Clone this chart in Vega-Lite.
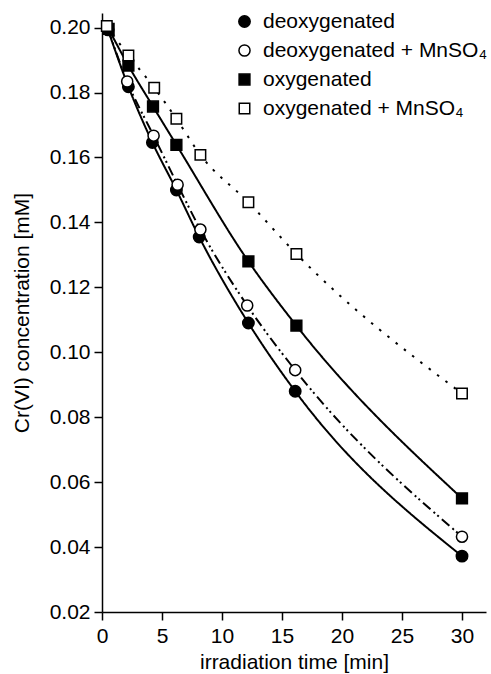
{
  "$schema": "https://vega.github.io/schema/vega-lite/v6.json",
  "width": 384,
  "height": 599,
  "autosize": {"type": "none"},
  "padding": {"left": 102, "top": 13, "right": 5, "bottom": 62},
  "background": "white",
  "config": {
    "view": {"stroke": null},
    "font": "Liberation Sans",
    "axis": {
      "grid": false,
      "domainColor": "black",
      "tickColor": "black",
      "domainWidth": 1.5,
      "tickWidth": 1.5,
      "tickSize": 8,
      "labelColor": "black",
      "titleColor": "black",
      "labelFontSize": 21,
      "titleFontSize": 21,
      "titleFontWeight": "normal",
      "labelFont": "Liberation Sans",
      "titleFont": "Liberation Sans"
    },
    "legend": {
      "orient": "none", "legendX": 132, "legendY": -2, "title": null,
      "labelFontSize": 21, "labelFont": "Liberation Sans", "labelColor": "black",
      "labelOffset": 8, "rowPadding": 7, "padding": 0, "labelLimit": 400,
      "symbolStrokeWidth": 1.5
    }
  },
  "resolve": {"legend": {"strokeDash": "independent"}},
  "data": {
    "values": [
      {"series": "deoxygenated", "t": 0.5, "c": 0.1993},
      {"series": "deoxygenated", "t": 2.2, "c": 0.1818},
      {"series": "deoxygenated", "t": 4.2, "c": 0.1646},
      {"series": "deoxygenated", "t": 6.2, "c": 0.150},
      {"series": "deoxygenated", "t": 8.1, "c": 0.1355},
      {"series": "deoxygenated", "t": 12.2, "c": 0.109},
      {"series": "deoxygenated", "t": 16.1, "c": 0.088},
      {"series": "deoxygenated", "t": 30, "c": 0.0372},
      {"series": "deoxygenated + MnSO₄", "t": 0.5, "c": 0.1995},
      {"series": "deoxygenated + MnSO₄", "t": 2.1, "c": 0.1834},
      {"series": "deoxygenated + MnSO₄", "t": 4.3, "c": 0.1667},
      {"series": "deoxygenated + MnSO₄", "t": 6.3, "c": 0.1516},
      {"series": "deoxygenated + MnSO₄", "t": 8.2, "c": 0.1378},
      {"series": "deoxygenated + MnSO₄", "t": 12.1, "c": 0.1144},
      {"series": "deoxygenated + MnSO₄", "t": 16.1, "c": 0.0945},
      {"series": "deoxygenated + MnSO₄", "t": 30, "c": 0.0432},
      {"series": "oxygenated", "t": 0.55, "c": 0.1996},
      {"series": "oxygenated", "t": 2.2, "c": 0.1883},
      {"series": "oxygenated", "t": 4.25, "c": 0.1757},
      {"series": "oxygenated", "t": 6.2, "c": 0.1639},
      {"series": "oxygenated", "t": 12.2, "c": 0.128},
      {"series": "oxygenated", "t": 16.2, "c": 0.1082},
      {"series": "oxygenated", "t": 30, "c": 0.055},
      {"series": "oxygenated + MnSO₄", "t": 0.4, "c": 0.2005},
      {"series": "oxygenated + MnSO₄", "t": 2.2, "c": 0.1914},
      {"series": "oxygenated + MnSO₄", "t": 4.35, "c": 0.1815},
      {"series": "oxygenated + MnSO₄", "t": 6.2, "c": 0.1719},
      {"series": "oxygenated + MnSO₄", "t": 8.2, "c": 0.1608},
      {"series": "oxygenated + MnSO₄", "t": 12.2, "c": 0.1462},
      {"series": "oxygenated + MnSO₄", "t": 16.2, "c": 0.1303},
      {"series": "oxygenated + MnSO₄", "t": 30, "c": 0.0873}
    ]
  },
  "encoding": {
    "x": {
      "field": "t", "type": "quantitative",
      "scale": {"domain": [0, 32], "nice": false, "zero": false},
      "axis": {"values": [0, 5, 10, 15, 20, 25, 30], "title": "irradiation time [min]", "labelPadding": 5, "titlePadding": 5, "labelFlush": false}
    },
    "y": {
      "field": "c", "type": "quantitative",
      "scale": {"domain": [0.02, 0.2045], "nice": false, "zero": false},
      "axis": {"values": [0.02, 0.04, 0.06, 0.08, 0.10, 0.12, 0.14, 0.16, 0.18, 0.20], "format": ".2f", "title": "Cr(VI) concentration [mM]", "labelPadding": 4, "titlePadding": 17, "labelFlush": false}
    }
  },
  "layer": [
    {
      "mark": {"type": "line", "interpolate": "monotone", "color": "black", "strokeWidth": 2},
      "encoding": {
        "detail": {"field": "series"},
        "strokeDash": {
          "field": "series", "type": "nominal", "legend": null,
          "scale": {
            "domain": ["deoxygenated", "deoxygenated + MnSO₄", "oxygenated", "oxygenated + MnSO₄"],
            "range": [[1, 0], [10, 4, 2, 3, 2, 4], [1, 0], [2.5, 8]]
          }
        }
      }
    },
    {
      "mark": {"type": "point", "filled": true, "strokeWidth": 1.5, "opacity": 1},
      "encoding": {
        "shape": {
          "field": "series", "type": "nominal",
          "scale": {
            "domain": ["deoxygenated", "deoxygenated + MnSO₄", "oxygenated", "oxygenated + MnSO₄"],
            "range": ["circle", "circle", "square", "square"]
          }
        },
        "fill": {
          "field": "series", "type": "nominal",
          "scale": {
            "domain": ["deoxygenated", "deoxygenated + MnSO₄", "oxygenated", "oxygenated + MnSO₄"],
            "range": ["black", "white", "black", "white"]
          }
        },
        "stroke": {
          "field": "series", "type": "nominal",
          "scale": {
            "domain": ["deoxygenated", "deoxygenated + MnSO₄", "oxygenated", "oxygenated + MnSO₄"],
            "range": ["black", "black", "black", "black"]
          }
        },
        "size": {
          "field": "series", "type": "ordinal",
          "scale": {
            "domain": ["deoxygenated", "deoxygenated + MnSO₄", "oxygenated", "oxygenated + MnSO₄"],
            "range": [130, 110, 225, 215]
          }
        }
      }
    }
  ]
}
